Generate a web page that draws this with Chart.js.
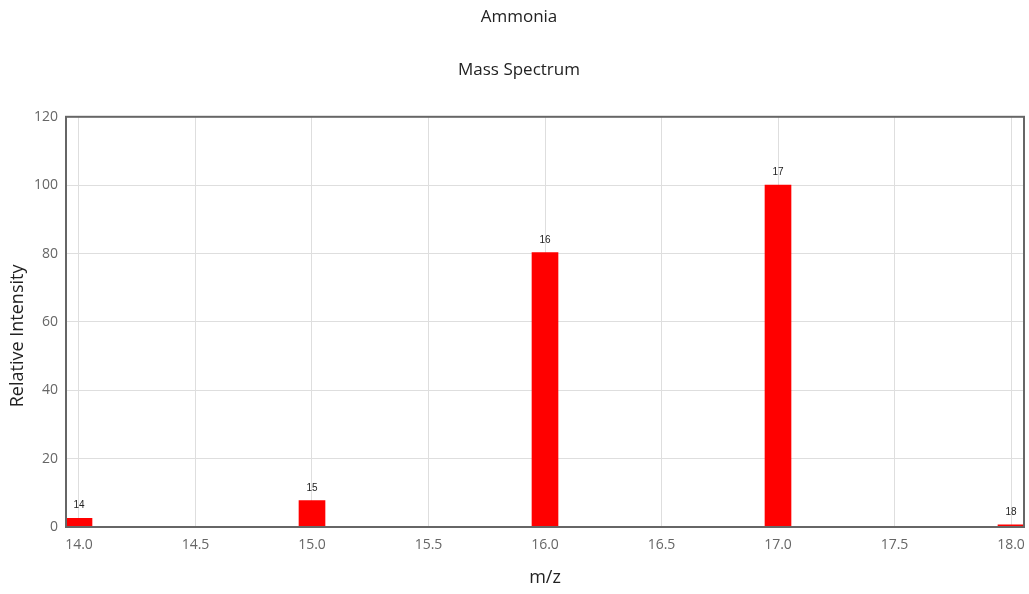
<!DOCTYPE html>
<html>
<head>
<meta charset="utf-8">
<script src="https://cdn.jsdelivr.net/npm/chart.js@4/dist/chart.umd.min.js"></script>
<style>
  html, body { margin: 0; padding: 0; background: #fff; }
  #wrap { width: 1029px; height: 594px; }
</style>
</head>
<body>
<div id="wrap"><canvas id="c" width="1029" height="594"></canvas></div>
<script>
// Ammonia mass spectrum: m/z peaks and relative intensities
const mzValues = [14, 15, 16, 17, 18];
const intensities = [2.5, 7.7, 80.3, 100, 0.6];
const xTickValues = [14, 14.5, 15, 15.5, 16, 16.5, 17, 17.5, 18];
const yTickValues = [0, 20, 40, 60, 80, 100, 120];
const yAxisTitle = 'Relative Intensity';

const BAR_PX = 26;

// Draws the m/z value above every bar
const peakLabels = {
  id: 'peakLabels',
  afterDatasetsDraw(chart) {
    const ctx = chart.ctx;
    const meta = chart.getDatasetMeta(0);
    ctx.save();
    ctx.font = '10px "Liberation Sans", Arial, sans-serif';
    ctx.fillStyle = '#222';
    ctx.textAlign = 'center';
    ctx.textBaseline = 'alphabetic';
    meta.data.forEach((el, i) => {
      ctx.fillText(String(mzValues[i]), el.x, el.y - 10);
    });
    ctx.restore();
  }
};

// Frame round the plotting area and the rotated y-axis caption
const plotFrame = {
  id: 'plotFrame',
  afterDraw(chart) {
    const a = chart.chartArea;
    const ctx = chart.ctx;
    ctx.save();
    ctx.strokeStyle = '#666';
    ctx.lineWidth = 2;
    ctx.strokeRect(a.left, a.top, a.right - a.left, a.bottom - a.top);
    ctx.restore();

    ctx.save();
    ctx.font = '18px "Open Sans", sans-serif';
    ctx.fillStyle = '#222';
    ctx.textAlign = 'center';
    ctx.textBaseline = 'middle';
    ctx.translate(18, (a.top + a.bottom) / 2 + 14);
    ctx.rotate(-Math.PI / 2);
    ctx.fillText(yAxisTitle, 0, 0);
    ctx.restore();
  }
};

const halfBarUnits = (BAR_PX / 2) / 233;

new Chart(document.getElementById('c'), {
  type: 'bar',
  data: {
    datasets: [{
      data: mzValues.map((x, i) => ({ x: x, y: intensities[i] })),
      backgroundColor: '#ff0000',
      borderWidth: 0,
      barThickness: BAR_PX
    }]
  },
  options: {
    responsive: false,
    animation: false,
    layout: { padding: { left: 14, right: 5, top: 0, bottom: 0 } },
    plugins: {
      legend: { display: false },
      tooltip: { enabled: false },
      title: {
        display: true,
        text: 'Ammonia',
        color: '#222',
        font: { family: '"Open Sans", sans-serif', size: 17, weight: 'normal' },
        padding: { top: 7, bottom: 17 }
      },
      subtitle: {
        display: true,
        text: 'Mass Spectrum',
        color: '#222',
        font: { family: '"Open Sans", sans-serif', size: 17, weight: 'normal' },
        padding: { top: 16, bottom: 36 }
      }
    },
    scales: {
      x: {
        type: 'linear',
        min: mzValues[0] - halfBarUnits,
        max: mzValues[mzValues.length - 1] + halfBarUnits,
        offset: false,
        afterBuildTicks: s => { s.ticks = xTickValues.map(v => ({ value: v })); },
        afterFit: s => { s.height = 67; s.paddingLeft = 0; s.paddingRight = 0; },
        grid: { color: '#dedede', drawTicks: false, offset: false },
        border: { display: false },
        ticks: {
          color: '#666',
          font: { family: '"Open Sans", sans-serif', size: 14 },
          padding: 10,
          maxRotation: 0,
          autoSkip: false,
          callback: v => Number(v).toFixed(1)
        },
        title: {
          display: true,
          text: 'm/z',
          color: '#222',
          font: { family: '"Open Sans", sans-serif', size: 18 },
          padding: { top: 0, bottom: 5 }
        }
      },
      y: {
        min: 0,
        max: 120,
        afterBuildTicks: s => { s.ticks = yTickValues.map(v => ({ value: v })); },
        afterFit: s => { s.width = 52; s.paddingTop = 0; s.paddingBottom = 0; },
        grid: { color: '#dedede', drawTicks: false },
        border: { display: false },
        ticks: {
          color: '#666',
          font: { family: '"Open Sans", sans-serif', size: 14 },
          padding: 8
        }
      }
    }
  },
  plugins: [peakLabels, plotFrame]
});
</script>
</body>
</html>
